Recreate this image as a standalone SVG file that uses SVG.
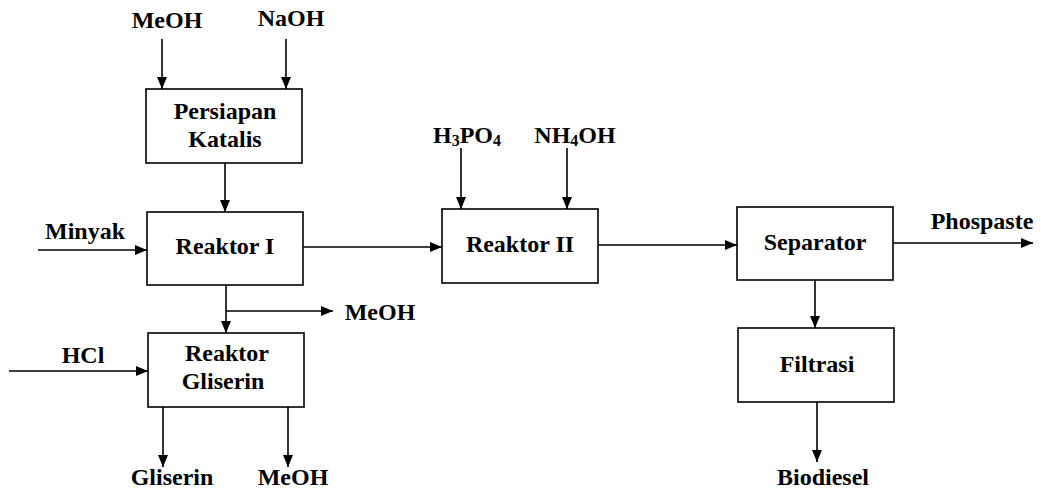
<svg xmlns="http://www.w3.org/2000/svg" width="1041" height="495" viewBox="0 0 1041 495">
<style>
.box{fill:#fff;stroke:#000;stroke-width:1.6}
.ln{fill:none;stroke:#000;stroke-width:1.6;marker-end:url(#ah)}
text{font-family:"Liberation Serif","Times New Roman",serif;font-weight:bold;font-size:24px;fill:#000;text-anchor:middle}
.sub{font-size:16px}
</style>
<defs>
<marker id="ah" markerUnits="userSpaceOnUse" markerWidth="12" markerHeight="12" viewBox="0 0 12 12" refX="12" refY="6" orient="auto">
<path d="M0,1 L12,6 L0,11 z" fill="#000"/>
</marker>
</defs>
<rect width="1041" height="495" fill="#fff"/>
<g id="connectors">
<line class="ln" x1="162" y1="39" x2="162" y2="89"/>
<line class="ln" x1="286" y1="39" x2="286" y2="89"/>
<line class="ln" x1="225" y1="163" x2="225" y2="212"/>
<line class="ln" x1="38" y1="250" x2="147" y2="250"/>
<line class="ln" x1="303" y1="247" x2="442" y2="247"/>
<line class="ln" x1="226" y1="285" x2="226" y2="333"/>
<line class="ln" x1="226" y1="311" x2="333" y2="311"/>
<line class="ln" x1="9" y1="371" x2="148" y2="371"/>
<line class="ln" x1="163" y1="407" x2="163" y2="467"/>
<line class="ln" x1="288" y1="407" x2="288" y2="467"/>
<line class="ln" x1="461" y1="148" x2="461" y2="209"/>
<line class="ln" x1="567" y1="148" x2="567" y2="209"/>
<line class="ln" x1="598" y1="245" x2="737" y2="245"/>
<line class="ln" x1="893" y1="243" x2="1033" y2="243"/>
<line class="ln" x1="815" y1="280" x2="815" y2="328"/>
<line class="ln" x1="817" y1="402" x2="817" y2="462"/>
</g>
<g id="labels">
<text x="167" y="28">MeOH</text>
<text x="291" y="26">NaOH</text>
<text x="85" y="239">Minyak</text>
<text x="380" y="320">MeOH</text>
<text x="83" y="363">HCl</text>
<text x="172" y="485">Gliserin</text>
<text x="293" y="485">MeOH</text>
<text x="467" y="143">H<tspan class="sub" dy="3">3</tspan><tspan dy="-3">PO</tspan><tspan class="sub" dy="3">4</tspan></text>
<text x="575" y="143">NH<tspan class="sub" dy="3">4</tspan><tspan dy="-3">OH</tspan></text>
<text x="982" y="229">Phospaste</text>
<text x="823" y="485">Biodiesel</text>
</g>
<g id="persiapan">
<rect class="box" x="146" y="89" width="156" height="74"/>
<text x="225" y="119">Persiapan</text>
<text x="225" y="147">Katalis</text>
</g>
<g id="reaktor1">
<rect class="box" x="147" y="212" width="156" height="73"/>
<text x="225" y="254">Reaktor I</text>
</g>
<g id="reaktorgliserin">
<rect class="box" x="148" y="333" width="156" height="74"/>
<text x="227" y="361">Reaktor</text>
<text x="223" y="389">Gliserin</text>
</g>
<g id="reaktor2">
<rect class="box" x="442" y="209" width="156" height="74"/>
<text x="520" y="252">Reaktor II</text>
</g>
<g id="separator">
<rect class="box" x="737" y="207" width="156" height="73"/>
<text x="815" y="250">Separator</text>
</g>
<g id="filtrasi">
<rect class="box" x="738" y="328" width="156" height="74"/>
<text x="817" y="372">Filtrasi</text>
</g>
</svg>
